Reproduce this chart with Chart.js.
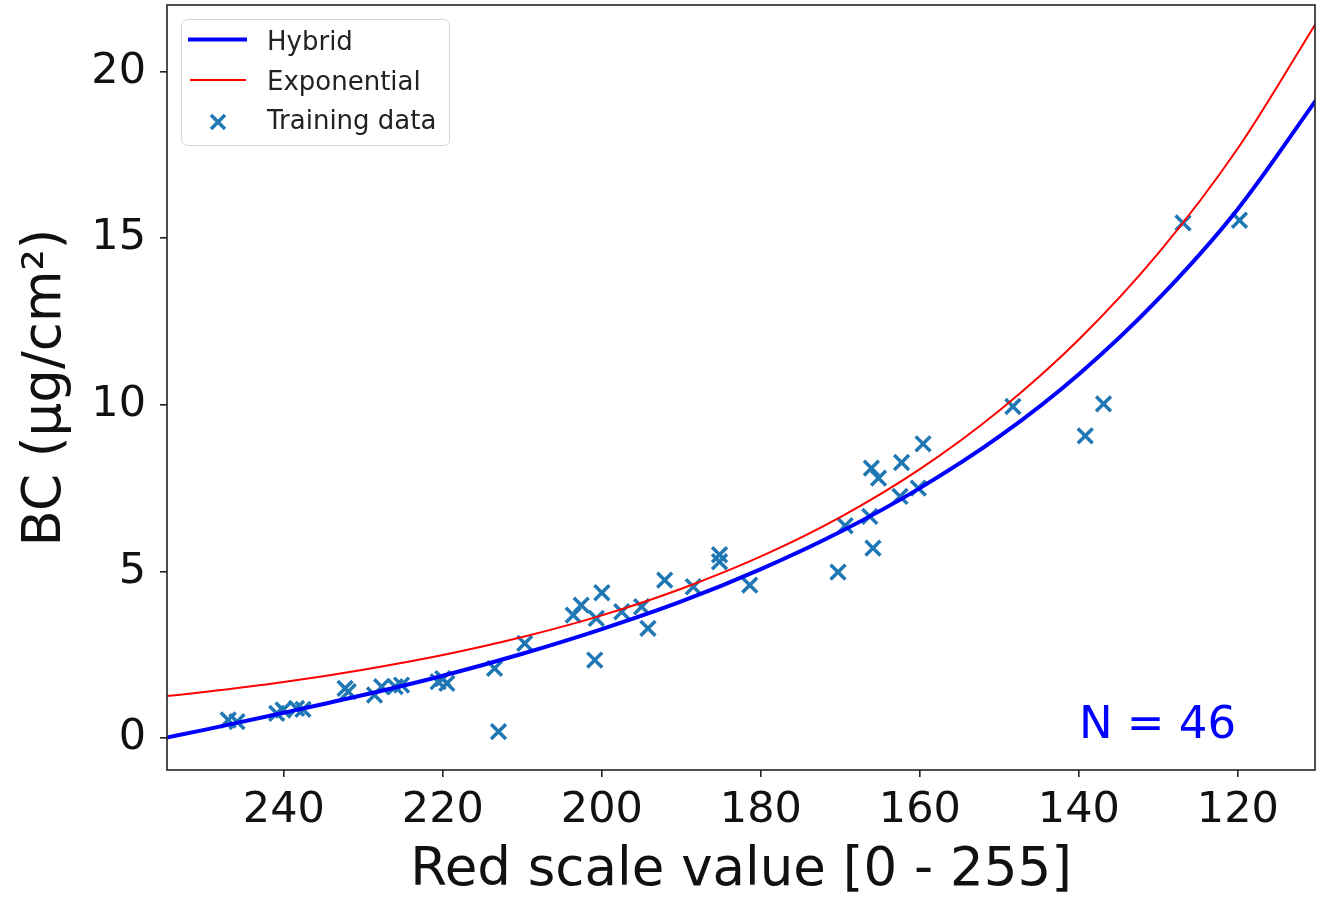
<!DOCTYPE html>
<html>
<head>
<meta charset="utf-8">
<script src="https://cdn.jsdelivr.net/npm/chart.js@4/dist/chart.umd.min.js"></script>
<style>
  html, body { margin: 0; padding: 0; background: #fff; }
  #wrap { width: 1320px; height: 898px; }
</style>
</head>
<body>
<div id="wrap"><canvas id="bcChart" width="1320" height="898"></canvas></div>
<script>
// fitted curves
var curveX = [255, 250, 240, 230, 220, 210, 200, 190, 180, 170, 160, 150, 140, 130, 120, 110];
var hybridY = [0.00, 0.245, 0.76, 1.29, 1.87, 2.53, 3.27, 4.10, 5.07, 6.19, 7.50, 9.05, 10.92, 13.18, 15.88, 19.20];
var exponentialY = [1.25, 1.38, 1.68, 2.05, 2.49, 3.03, 3.68, 4.48, 5.45, 6.63, 8.07, 9.83, 11.96, 14.55, 17.70, 21.52];

// training data (46 samples)
var trainX = [247.0, 245.9, 240.9, 240.1, 238.4, 237.6, 232.3, 231.9, 228.6, 227.7, 226.0, 225.2,
              220.6, 220.0, 219.5, 213.5, 213.0, 209.7, 203.6, 202.6, 200.0, 200.7, 197.5, 195.0,
              194.2, 200.9, 192.1, 188.5, 185.2, 185.2, 181.4, 170.3, 165.9, 169.4, 166.3, 166.1,
              165.2, 162.3, 162.5, 160.2, 159.6, 148.3, 139.2, 136.9, 126.9, 119.8];
var trainY = [0.54, 0.49, 0.74, 0.84, 0.89, 0.86, 1.49, 1.39, 1.29, 1.54, 1.54, 1.59,
              1.69, 1.78, 1.64, 2.09, 0.19, 2.84, 3.69, 3.99, 4.36, 3.59, 3.79, 3.94,
              3.29, 2.34, 4.74, 4.54, 5.50, 5.29, 4.59, 4.98, 5.70, 6.37, 6.65, 8.10,
              7.80, 8.27, 7.25, 7.50, 8.83, 9.95, 9.07, 10.03, 15.46, 15.54];

var xTicks = [240, 220, 200, 180, 160, 140, 120];
var yTicks = [0, 5, 10, 15, 20];
var legendLabels = ['Hybrid', 'Exponential', 'Training data'];
var nLabel = 'N = 46';

var FONT = 'DejaVu Sans';

function toPoints(xs, ys) {
    var pts = [];
    for (var i = 0; i < xs.length; i++) {
        pts.push({x: xs[i], y: ys[i]});
    }
    return pts;
}

function noPad(scale) {
    scale.paddingTop = 0;
    scale.paddingBottom = 0;
    scale.paddingLeft = 0;
    scale.paddingRight = 0;
}

// frame, legend and the N label
var extras = {
    id: 'extras',
    afterDatasetsDraw: function(chart) {
        var ctx = chart.ctx;
        var a = chart.chartArea;
        var xs = chart.scales.x, ys = chart.scales.y;

        ctx.save();
        ctx.strokeStyle = '#222';
        ctx.lineWidth = 1.6;
        ctx.strokeRect(a.left, a.top, a.right - a.left, a.bottom - a.top);

        // N label
        ctx.fillStyle = '#0000ff';
        ctx.font = '45px "' + FONT + '"';
        ctx.textAlign = 'left';
        ctx.textBaseline = 'alphabetic';
        ctx.fillText(nLabel, xs.getPixelForValue(140), ys.getPixelForValue(0));

        // legend box
        var bx = 181.5, by = 19.5, bw = 268, bh = 126, r = 6;
        ctx.beginPath();
        ctx.moveTo(bx + r, by);
        ctx.arcTo(bx + bw, by, bx + bw, by + bh, r);
        ctx.arcTo(bx + bw, by + bh, bx, by + bh, r);
        ctx.arcTo(bx, by + bh, bx, by, r);
        ctx.arcTo(bx, by, bx + bw, by, r);
        ctx.closePath();
        ctx.fillStyle = 'rgba(255,255,255,0.8)';
        ctx.fill();
        ctx.strokeStyle = '#d3d3d3';
        ctx.lineWidth = 1;
        ctx.stroke();

        var ds = chart.data.datasets;
        // Hybrid line
        ctx.strokeStyle = ds[0].borderColor;
        ctx.lineWidth = ds[0].borderWidth;
        ctx.beginPath(); ctx.moveTo(188, 39.5); ctx.lineTo(247, 39.5); ctx.stroke();
        // Exponential line
        ctx.strokeStyle = ds[1].borderColor;
        ctx.lineWidth = ds[1].borderWidth;
        ctx.beginPath(); ctx.moveTo(190, 80); ctx.lineTo(246, 80); ctx.stroke();
        // Training marker
        ctx.strokeStyle = ds[2].borderColor;
        ctx.lineWidth = 3.5;
        ctx.beginPath();
        ctx.moveTo(211, 115); ctx.lineTo(225, 129);
        ctx.moveTo(225, 115); ctx.lineTo(211, 129);
        ctx.stroke();

        ctx.fillStyle = '#222';
        ctx.font = '26px "' + FONT + '"';
        ctx.fillText(legendLabels[0], 267, 50);
        ctx.fillText(legendLabels[1], 267, 90);
        ctx.fillText(legendLabels[2], 267, 129);
        ctx.restore();
    }
};

var ctx = document.getElementById('bcChart');
var bcChart = new Chart(ctx, {
    type: 'scatter',
    data: {
        datasets: [
            {
                label: legendLabels[0],
                type: 'line',
                data: toPoints(curveX, hybridY),
                borderColor: '#0000ff',
                borderWidth: 4,
                pointRadius: 0,
                fill: false,
                cubicInterpolationMode: 'monotone',
                clip: 0,
                order: 1
            },
            {
                label: legendLabels[1],
                type: 'line',
                data: toPoints(curveX, exponentialY),
                borderColor: '#ff0000',
                borderWidth: 2,
                pointRadius: 0,
                fill: false,
                cubicInterpolationMode: 'monotone',
                clip: 0,
                order: 0
            },
            {
                label: legendLabels[2],
                data: toPoints(trainX, trainY),
                pointStyle: 'crossRot',
                pointRadius: 10.5,
                pointBorderWidth: 3.5,
                borderColor: '#1f77b4',
                backgroundColor: '#1f77b4',
                order: 2
            }
        ]
    },
    options: {
        responsive: false,
        animation: false,
        events: [],
        layout: { autoPadding: false, padding: { left: 0, right: 5, top: 5, bottom: 0 } },
        plugins: {
            legend: { display: false },
            tooltip: { enabled: false }
        },
        scales: {
            x: {
                type: 'linear',
                reverse: true,
                min: 110.3,
                max: 254.7,
                afterBuildTicks: function(scale) {
                    scale.ticks = xTicks.map(function(v) { return {value: v}; });
                },
                afterFit: function(scale) { scale.height = 128; noPad(scale); },
                border: { display: false },
                grid: { drawOnChartArea: false, drawTicks: true, tickLength: 7, color: '#222', lineWidth: 1.6 },
                ticks: {
                    font: { family: FONT, size: 43 },
                    color: '#111',
                    padding: 8,
                    maxRotation: 0,
                    autoSkip: false
                },
                title: {
                    display: true,
                    text: 'Red scale value [0 - 255]',
                    font: { family: FONT, size: 53, lineHeight: 1 },
                    color: '#111',
                    padding: { top: 0, bottom: 0 }
                }
            },
            y: {
                type: 'linear',
                min: -0.96,
                max: 22.0,
                afterBuildTicks: function(scale) {
                    scale.ticks = yTicks.map(function(v) { return {value: v}; });
                },
                afterFit: function(scale) { scale.width = 167; noPad(scale); },
                border: { display: false },
                grid: { drawOnChartArea: false, drawTicks: true, tickLength: 7, color: '#222', lineWidth: 1.6 },
                ticks: {
                    font: { family: FONT, size: 43 },
                    color: '#111',
                    padding: 14,
                    autoSkip: false
                },
                title: {
                    display: true,
                    text: 'BC (µg/cm²)',
                    font: { family: FONT, size: 53, lineHeight: 1 },
                    color: '#111',
                    padding: { top: 20, bottom: 0 }
                }
            }
        }
    },
    plugins: [extras]
});
</script>
</body>
</html>
